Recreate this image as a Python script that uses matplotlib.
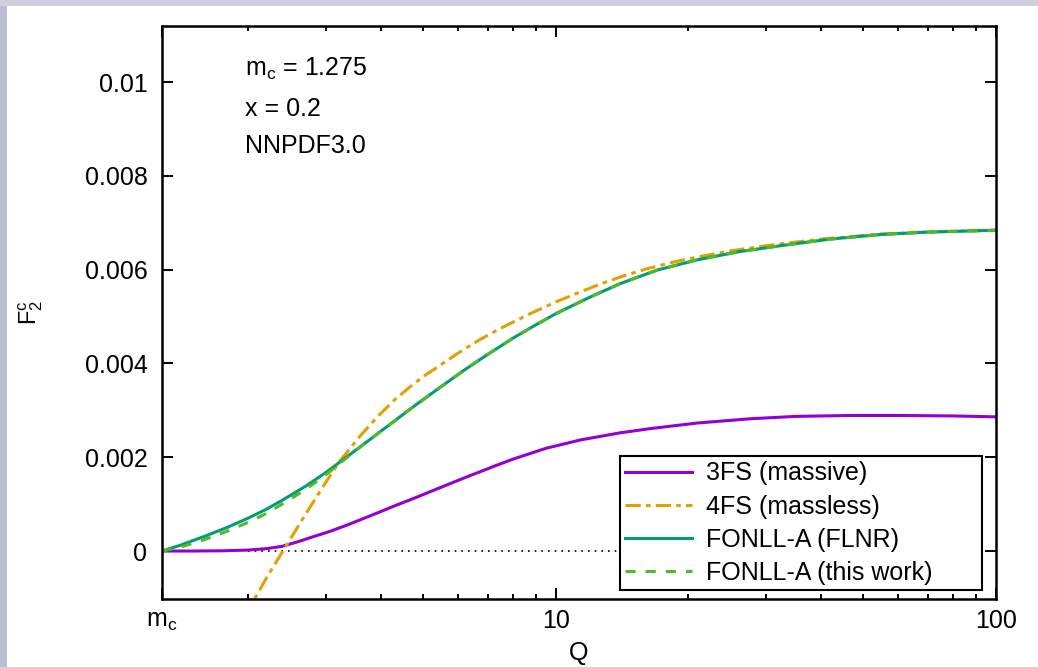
import matplotlib
matplotlib.use('agg')

import matplotlib.pyplot as plt
import matplotlib.patches as pa
from matplotlib.ticker import FixedLocator, FixedFormatter, NullFormatter

plt.rcParams['font.family'] = ['Liberation Sans', 'DejaVu Sans']
plt.rcParams['mathtext.fontset'] = 'custom'
plt.rcParams['mathtext.rm'] = 'Liberation Sans'
plt.rcParams['mathtext.it'] = 'Liberation Sans:italic'

mc = 1.275
q_max = 100.0

# 3FS (massive)
q_3fs = [1.275, 1.5, 1.75, 2.0, 2.2, 2.39, 2.6, 2.8, 3.05, 3.35, 3.65, 4.0, 4.35,
         4.75, 5.2, 5.66, 6.2, 6.73, 7.3, 8.0, 9.5, 11.4, 14, 16.4, 21, 27.7, 35,
         46.7, 60, 80, 100]
f2_3fs = [0.0, 0.0, 0.000005, 0.00002, 0.00005, 0.0001, 0.0002, 0.0003, 0.00041,
          0.00055, 0.00069, 0.00084, 0.00098, 0.00112, 0.00127, 0.00141, 0.00156,
          0.00169, 0.00182, 0.00196, 0.00219, 0.00237, 0.00252, 0.00261, 0.00273,
          0.00282, 0.00287, 0.00289, 0.00289, 0.00288, 0.00286]

# 4FS (massless)
q_4fs = [1.95, 2.1, 2.2, 2.4, 2.55, 2.7, 3.0, 3.24, 3.6, 3.95, 4.3, 4.65, 5.0, 5.5,
         6.0, 6.7, 7.5, 8.7, 10, 11.2, 12.6, 14.2, 16, 18.3, 21, 25, 30, 40, 55, 75,
         100]
f2_4fs = [-0.00138, -0.00092, -0.00058, 0.0, 0.0004, 0.00078, 0.00146, 0.00193,
          0.00246, 0.00288, 0.00322, 0.00349, 0.00372, 0.00398, 0.00422, 0.0045,
          0.00475, 0.00505, 0.00531, 0.0055, 0.00569, 0.00586, 0.00601, 0.00615,
          0.00627, 0.0064, 0.00651, 0.00665, 0.00676, 0.00681, 0.00684]

# FONLL-A (FLNR)
q_flnr = [1.275, 1.4, 1.6, 1.8, 2.0, 2.2, 2.4, 2.7, 3.0, 3.3, 3.7, 4.2, 4.8, 5.5,
          6.2, 7.0, 8.0, 9.0, 10, 12, 14, 17, 21, 26, 33, 42, 55, 70, 100]
f2_flnr = [0.0, 0.00012, 0.00032, 0.00051, 0.0007, 0.00089, 0.00109, 0.00138,
           0.00167, 0.00196, 0.00231, 0.0027, 0.00311, 0.00351, 0.00386, 0.00419,
           0.00454, 0.00482, 0.00506, 0.00542, 0.0057, 0.00599, 0.00621, 0.00638,
           0.00652, 0.00665, 0.00675, 0.0068, 0.00684]

# FONLL-A (this work)
q_this = q_flnr
f2_this = [0.0, 0.00008, 0.00025, 0.00043, 0.00061, 0.0008, 0.00101, 0.00131,
           0.00162, 0.00194, 0.00231, 0.0027, 0.00311, 0.00351, 0.00386, 0.00419,
           0.00454, 0.00482, 0.00506, 0.00542, 0.0057, 0.00599, 0.00621, 0.00638,
           0.00652, 0.00665, 0.00675, 0.0068, 0.00684]

zero_line_from = 2.0

labels = ['3FS (massive)', '4FS (massless)', 'FONLL-A (FLNR)', 'FONLL-A (this work)']
yticks = [0, 0.002, 0.004, 0.006, 0.008, 0.01]
ytick_labels = ['0', '0.002', '0.004', '0.006', '0.008', '0.01']
xticks = [mc, 10, 100]
xtick_labels = [r'$\mathregular{m_c}$', '10', '100']
xminor = [2, 3, 4, 5, 6, 7, 8, 9, 20, 30, 40, 50, 60, 70, 80, 90]

W, H = 1038, 667
fig = plt.figure(figsize=(W / 100., H / 100.), dpi=100)
fig.patches.append(pa.Rectangle((0, 0), 7. / W, 1, transform=fig.transFigure,
                                fc='#bdbdd5', ec='none'))
fig.patches.append(pa.Rectangle((0, 1 - 6. / H), 1, 6. / H, transform=fig.transFigure,
                                fc='#cfcfdd', ec='none'))

ax = fig.add_axes([162. / W, 1 - 599. / H, 834. / W, 573. / H])
ax.set_xscale('log')

lw = 2.2
ax.plot(q_3fs, f2_3fs, color='#9400d3', lw=lw, label=labels[0])
ax.plot(q_4fs, f2_4fs, color='#e69f00', lw=lw, ls=(0, (5, 1.7, 1.5, 1.7)), label=labels[1])
ax.plot(q_flnr, f2_flnr, color='#009e73', lw=lw, label=labels[2])
ax.plot(q_this, f2_this, color='#4cbb2a', lw=lw, ls=(0, (3.3, 3.3)), label=labels[3])
ax.hlines(0, zero_line_from, q_max, colors='black', lw=1.2, linestyles=(0, (1, 3)), zorder=1)

ax.set_xlim(mc, q_max)
ax.set_ylim(-0.001023, 0.011194)

ax.xaxis.set_major_locator(FixedLocator(xticks))
ax.xaxis.set_major_formatter(FixedFormatter(xtick_labels))
ax.xaxis.set_minor_locator(FixedLocator(xminor))
ax.xaxis.set_minor_formatter(NullFormatter())
ax.yaxis.set_major_locator(FixedLocator(yticks))
ax.yaxis.set_major_formatter(FixedFormatter(ytick_labels))

fs = 18
ax.tick_params(which='both', direction='in', top=True, right=True, width=1.4, labelsize=fs)
ax.tick_params(which='major', length=7.7)
ax.tick_params(which='minor', length=3.6)
ax.tick_params(axis='y', pad=10.5)
ax.tick_params(axis='x', pad=7)
for s in ax.spines.values():
    s.set_linewidth(1.8)

ax.set_ylabel(r'$\mathregular{F_2^c}$', fontsize=17)
ax.yaxis.set_label_coords(-0.14, 0.5)
ax.set_xlabel('Q', fontsize=fs)
ax.xaxis.set_label_coords(0.5, -0.074)

ax.text(0.0995, 0.9127, r'$\mathregular{m_c}$ = 1.275', transform=ax.transAxes,
        fontsize=fs, va='baseline')
ax.text(0.0995, 0.843, 'x = 0.2', transform=ax.transAxes, fontsize=fs, va='baseline')
ax.text(0.0995, 0.778, 'NNPDF3.0', transform=ax.transAxes, fontsize=fs, va='baseline')

leg = ax.legend(loc='lower left', bbox_to_anchor=(0.549, 0.0157, 0.434, 0.23),
                mode='expand', fontsize=fs, frameon=True, fancybox=False,
                edgecolor='black', framealpha=1, handlelength=2.7, handletextpad=0.55,
                labelspacing=0.37, borderpad=0.2, borderaxespad=0)
leg.get_frame().set_linewidth(1.5)

fig.savefig('out.png', dpi=100)
